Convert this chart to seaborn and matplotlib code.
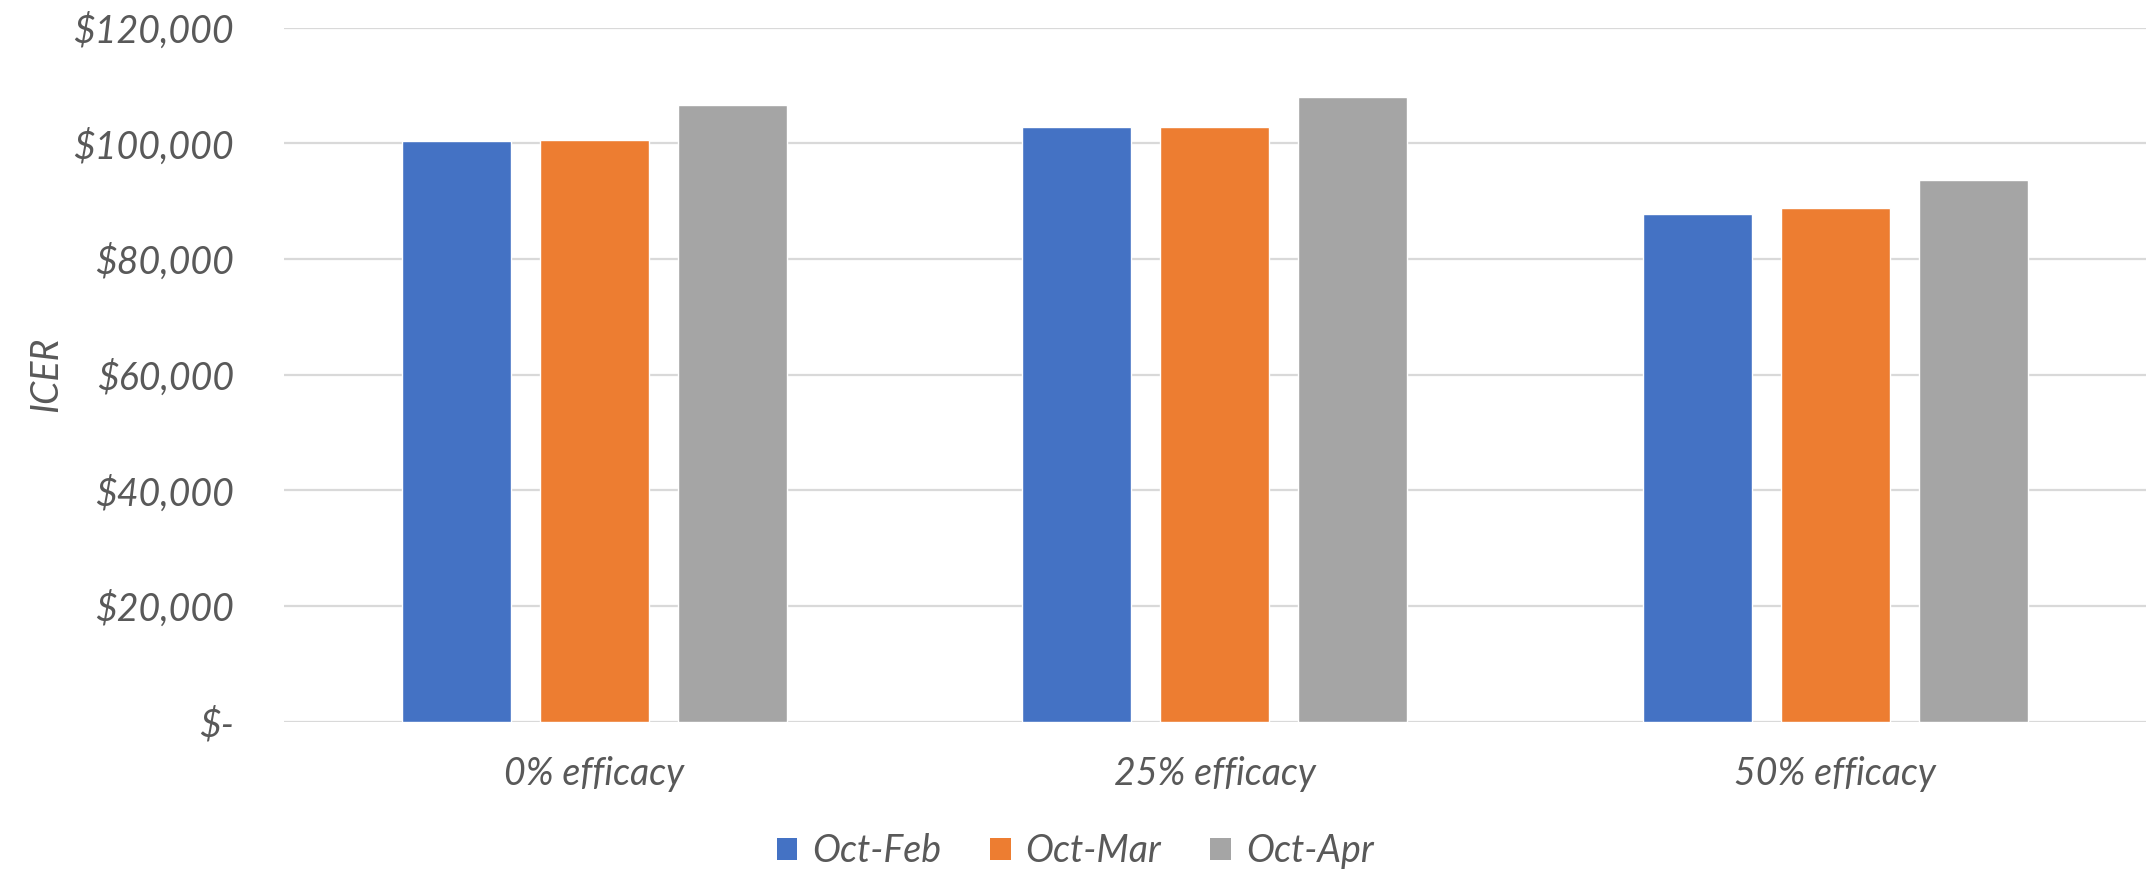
import matplotlib
matplotlib.use("Agg")
import matplotlib.pyplot as plt
import matplotlib.ticker as mticker
from matplotlib.patches import Patch
import pandas as pd
import seaborn as sns

# Scenario categories and ICER values per vaccination window
categories = ["0% efficacy", "25% efficacy", "50% efficacy"]
series = ["Oct-Feb", "Oct-Mar", "Oct-Apr"]
oct_feb = [100400, 102800, 87800]
oct_mar = [100600, 102800, 88800]
oct_apr = [106600, 108100, 93600]
y_ticks = [0, 20000, 40000, 60000, 80000, 100000, 120000]

colors = ["#4472C4", "#ED7D31", "#A5A5A5"]
text_color = "#595959"
fs = 27

rows = []
for name, vals in zip(series, [oct_feb, oct_mar, oct_apr]):
    for cat, v in zip(categories, vals):
        rows.append({"Scenario": cat, "Window": name, "ICER": v})
df = pd.DataFrame(rows)

sns.set_theme(style="white")
plt.rcParams["font.family"] = ["Lato", "DejaVu Sans"]
plt.rcParams["font.style"] = "italic"

fig = plt.figure(figsize=(21.5, 8.72), dpi=100)
ax = fig.add_axes([0.132, 0.1724, 0.866, 0.7958])

sns.barplot(data=df, x="Scenario", y="ICER", hue="Window", order=categories,
            hue_order=series, palette=colors, width=0.667, gap=0.21,
            saturation=1, legend=False, ax=ax)

ax.set_ylim(0, 120000)
ax.set_yticks(y_ticks)
ax.yaxis.set_major_formatter(mticker.FuncFormatter(
    lambda v, p: "$-" if v == 0 else f"${v:,.0f}"))
ax.grid(axis="y", color="#D9D9D9", linewidth=1.6)
ax.set_axisbelow(True)
for s in ax.spines.values():
    s.set_visible(False)
ax.tick_params(axis="both", length=0, labelsize=fs, labelcolor=text_color)
ax.tick_params(axis="y", pad=36)
ax.tick_params(axis="x", pad=25)
for lab in ax.get_xticklabels() + ax.get_yticklabels():
    lab.set_fontstyle("italic")
ax.set_xlabel("")
ax.set_ylabel("ICER", fontsize=fs, color=text_color, style="italic")
ax.yaxis.set_label_coords(-0.118, 0.5)

handles = [Patch(facecolor=c, edgecolor="none", label=s) for c, s in zip(colors, series)]
fig.legend(handles=handles, loc="center", bbox_to_anchor=(0.5, 0.024), ncol=3,
           frameon=False, handlelength=0.55, handleheight=0.55,
           handletextpad=0.4, columnspacing=1.3, labelcolor=text_color,
           prop={"style": "italic", "size": fs})

fig.savefig("out.png", dpi=100, facecolor="white")
